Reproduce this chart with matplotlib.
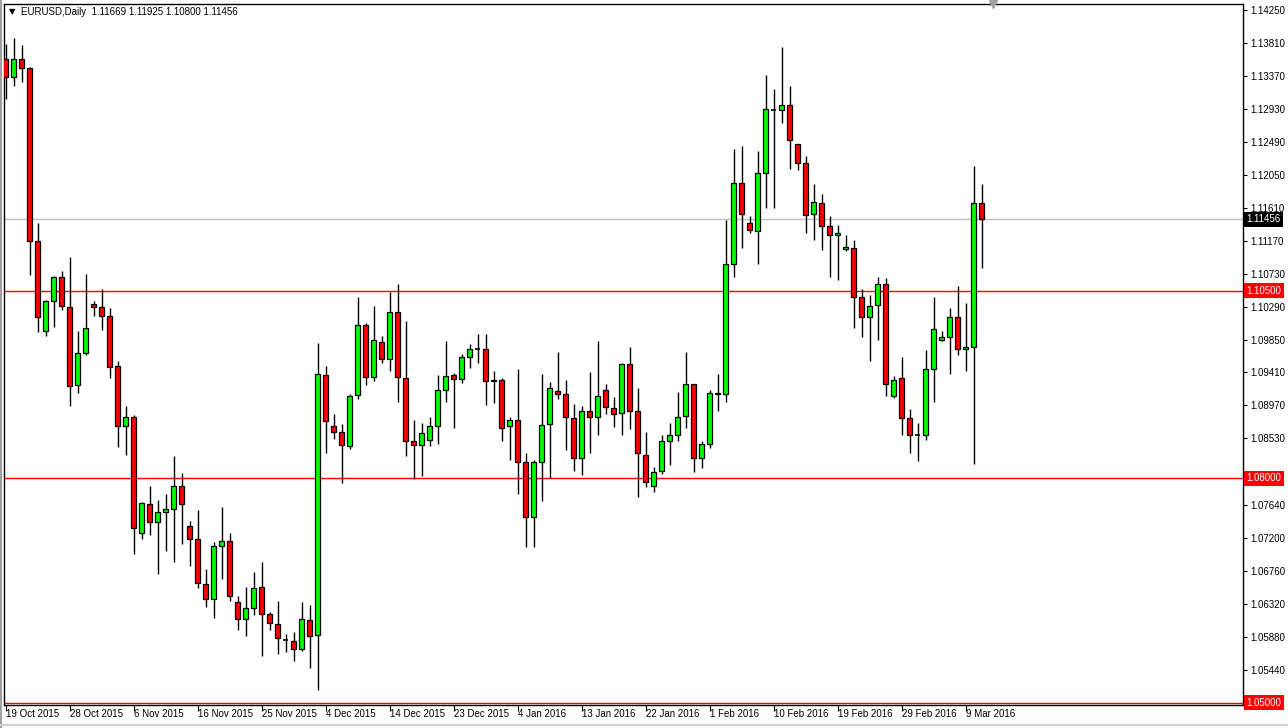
import matplotlib
matplotlib.use("Agg")
import matplotlib.pyplot as plt
import matplotlib.transforms as mtransforms
from matplotlib.lines import Line2D

# EURUSD daily candles
opens = [1.1359, 1.1336, 1.1360, 1.1348, 1.1116, 1.0996, 1.1036, 1.1068, 1.1029, 1.0924,
         1.0967, 1.1032, 1.1028, 1.1016, 1.0949, 1.0869, 1.0881, 1.0726, 1.0766, 1.0742,
         1.0755, 1.0759, 1.0790, 1.0736, 1.0718, 1.0659, 1.0638, 1.0709, 1.0716, 1.0635,
         1.0612, 1.0626, 1.0655, 1.0619, 1.0605, 1.0584, 1.0582, 1.0572, 1.0610, 1.0591,
         1.0937, 1.0869, 1.0861, 1.0843, 1.0911, 1.1004, 1.0935, 1.0982, 1.0959, 1.1022,
         1.0934, 1.0849, 1.0844, 1.0851, 1.0869, 1.0918, 1.0937, 1.0932, 1.0961, 1.0972,
         1.0972, 1.0930, 1.0931, 1.0869, 1.0877, 1.0821, 1.0748, 1.0822, 1.0872, 1.0916,
         1.0912, 1.0880, 1.0827, 1.0889, 1.0881, 1.0917, 1.0894, 1.0887, 1.0952, 1.0889,
         1.0831, 1.0789, 1.0810, 1.0849, 1.0858, 1.0883, 1.0926, 1.0827, 1.0846, 1.0914,
         1.0912, 1.1086, 1.1194, 1.1141, 1.1130, 1.1208, 1.1292, 1.1292, 1.1298, 1.1246,
         1.1221, 1.1152, 1.1167, 1.1137, 1.1124, 1.1106, 1.1107, 1.1042, 1.1015, 1.1031,
         1.1059, 1.0909, 1.0933, 1.0880, 1.0857, 1.0857, 1.0945, 1.0984, 1.0989, 1.1015,
         1.0972, 1.0975, 1.11669]
highs = [1.1379, 1.1387, 1.1378, 1.1349, 1.1140, 1.1038, 1.1070, 1.1077, 1.1095, 1.0997,
         1.1072, 1.1037, 1.1052, 1.1027, 1.0956, 1.0896, 1.0884, 1.0768, 1.0789, 1.0771,
         1.0779, 1.0829, 1.0807, 1.0743, 1.0757, 1.0678, 1.0715, 1.0762, 1.0726, 1.0643,
         1.0655, 1.0675, 1.0688, 1.0621, 1.0636, 1.0592, 1.0595, 1.0635, 1.0631, 1.0980,
         1.0949, 1.0886, 1.0872, 1.0912, 1.1042, 1.1007, 1.1030, 1.0990, 1.1048, 1.1059,
         1.1010, 1.0877, 1.0873, 1.0881, 1.0938, 1.0983, 1.0940, 1.0966, 1.0979, 1.0992,
         1.0992, 1.0943, 1.0933, 1.0881, 1.0946, 1.0834, 1.0824, 1.0939, 1.0928, 1.0969,
         1.0931, 1.0899, 1.0896, 1.0942, 1.0983, 1.0925, 1.0908, 1.0954, 1.0975, 1.0920,
         1.0861, 1.0815, 1.0857, 1.0873, 1.0915, 1.0968, 1.0926, 1.0850, 1.0917, 1.0939,
         1.1145, 1.1239, 1.1243, 1.1150, 1.1237, 1.1338, 1.1320, 1.1376, 1.1324, 1.1246,
         1.1230, 1.1192, 1.1179, 1.1150, 1.1138, 1.1124, 1.1118, 1.1052, 1.1045, 1.1068,
         1.1067, 1.0936, 1.0961, 1.0892, 1.0874, 1.0971, 1.1042, 1.0996, 1.1027, 1.1057,
         1.1034, 1.1217, 1.11925]
lows = [1.1306, 1.1323, 1.1329, 1.1071, 1.0995, 1.0990, 1.1002, 1.1024, 1.0896, 1.0914,
        1.0964, 1.1016, 1.0998, 1.0934, 1.0841, 1.0831, 1.0699, 1.0718, 1.0724, 1.0672,
        1.0703, 1.0688, 1.0712, 1.0682, 1.0653, 1.0628, 1.0613, 1.0665, 1.0636, 1.0597,
        1.0589, 1.0617, 1.0563, 1.0597, 1.0565, 1.0568, 1.0556, 1.0569, 1.0547, 1.0517,
        1.0834, 1.0852, 1.0793, 1.0839, 1.0905, 1.0924, 1.0929, 1.0953, 1.0943, 1.0902,
        1.0830, 1.0799, 1.0803, 1.0843, 1.0846, 1.0901, 1.0867, 1.0927, 1.0947, 1.0954,
        1.0897, 1.0900, 1.0850, 1.0824, 1.0779, 1.0708, 1.0708, 1.0769, 1.0800, 1.0906,
        1.0838, 1.0810, 1.0804, 1.0833, 1.0858, 1.0886, 1.0868, 1.0857, 1.0865, 1.0775,
        1.0788, 1.0782, 1.0805, 1.0817, 1.0850, 1.0867, 1.0808, 1.0813, 1.0840, 1.0890,
        1.0902, 1.1068, 1.1107, 1.1127, 1.1086, 1.1161, 1.1160, 1.1274, 1.1213, 1.1211,
        1.1127, 1.1118, 1.1104, 1.1069, 1.1065, 1.1103, 1.1001, 1.0988, 1.0956, 1.0985,
        1.0910, 1.0907, 1.0857, 1.0833, 1.0823, 1.0851, 1.0901, 1.0983, 1.0939, 1.0965,
        1.0943, 1.0819, 1.10800]
closes = [1.1336, 1.1360, 1.1347, 1.1116, 1.1015, 1.1037, 1.1068, 1.1030, 1.0923, 1.0967,
          1.1000, 1.1028, 1.1016, 1.0948, 1.0869, 1.0881, 1.0734, 1.0767, 1.0742, 1.0755,
          1.0759, 1.0790, 1.0766, 1.0718, 1.0660, 1.0638, 1.0709, 1.0716, 1.0642, 1.0612,
          1.0626, 1.0653, 1.0619, 1.0606, 1.0586, 1.0584, 1.0572, 1.0612, 1.0589, 1.0939,
          1.0876, 1.0861, 1.0844, 1.0910, 1.1004, 1.0935, 1.0985, 1.0959, 1.1022, 1.0935,
          1.0849, 1.0844, 1.0860, 1.0869, 1.0918, 1.0936, 1.0932, 1.0961, 1.0973, 1.0972,
          1.0930, 1.0931, 1.0867, 1.0877, 1.0821, 1.0748, 1.0822, 1.0871, 1.0920, 1.0912,
          1.0881, 1.0827, 1.0890, 1.0881, 1.0909, 1.0895, 1.0886, 1.0952, 1.0889, 1.0833,
          1.0795, 1.0808, 1.0849, 1.0858, 1.0882, 1.0926, 1.0827, 1.0846, 1.0914, 1.0912,
          1.1086, 1.1194, 1.1152, 1.1131, 1.1208, 1.1293, 1.1292, 1.1298, 1.1252, 1.1221,
          1.1151, 1.1168, 1.1137, 1.1124, 1.1127, 1.1109, 1.1042, 1.1015, 1.1030, 1.1059,
          1.0926, 1.0931, 1.0880, 1.0857, 1.0857, 1.0945, 1.0999, 1.0989, 1.1015, 1.0972,
          1.0975, 1.1167, 1.11456]

date_labels = ["19 Oct 2015", "28 Oct 2015", "6 Nov 2015", "16 Nov 2015", "25 Nov 2015",
               "4 Dec 2015", "14 Dec 2015", "23 Dec 2015", "4 Jan 2016", "13 Jan 2016",
               "22 Jan 2016", "1 Feb 2016", "10 Feb 2016", "19 Feb 2016", "29 Feb 2016",
               "9 Mar 2016"]
label_step = 8

price_ticks = [1.14250, 1.13810, 1.13370, 1.12930, 1.12490, 1.12050, 1.11610, 1.11170,
               1.10730, 1.10290, 1.09850, 1.09410, 1.08970, 1.08530, 1.08090, 1.07640,
               1.07200, 1.06760, 1.06320, 1.05880, 1.05440]
hidden_tick = 1.08090   # sits under the 1.08000 box
red_levels = [1.10500, 1.08000, 1.05000]
last_price = 1.11456
title = "EURUSD,Daily  1.11669 1.11925 1.10800 1.11456"

FONT = ["Liberation Sans", "DejaVu Sans"]
plt.rcParams["font.family"] = FONT

fig = plt.figure(figsize=(12.88, 7.28), dpi=100)
ax = fig.add_axes([4 / 1288, 23 / 728, 1239 / 1288, 701 / 728])

n = len(opens)
xs = list(range(n))
w = 0.6

# wicks
ax.vlines(xs, lows, highs, color="black", linewidth=1.0, zorder=3)

# bodies
for i in xs:
    o, c = opens[i], closes[i]
    if abs(c - o) < 1e-9:
        ax.hlines(o, i - w / 2, i + w / 2, color="black", linewidth=1.2, zorder=4)
        continue
    col = "#00ff00" if c > o else "#ff0000"
    ax.bar(i, abs(c - o), bottom=min(o, c), width=w, color=col,
           edgecolor="black", linewidth=0.9, zorder=4)

# horizontal levels
for lv in red_levels:
    ax.axhline(lv, color="#ff0000", linewidth=1.0, zorder=2)
ax.axhline(last_price, color="#c0c0c0", linewidth=1.0, zorder=2)

ax.set_xlim(-0.2125, 154.66)
ax.set_ylim(1.04970, 1.1433)

# right price scale
ax.yaxis.tick_right()
ax.set_yticks(price_ticks)
ax.set_yticklabels(["" if p == hidden_tick else f"{p:.5f}" for p in price_ticks])
ax.tick_params(axis="y", direction="out", length=3, width=0.8, pad=2.5,
               labelsize=7, colors="black")

# bottom date scale
ax.set_xticks([k * label_step for k in range(len(date_labels))])
ax.set_xticklabels(date_labels, ha="left")
ax.tick_params(axis="x", direction="out", length=4, width=0.8, pad=-1,
               labelsize=7, colors="black")

for sp in ax.spines.values():
    sp.set_color("black")
    sp.set_linewidth(1.0)

# price boxes on the scale
trans = mtransforms.blended_transform_factory(ax.transAxes, ax.transData)
boxes = [(last_price, "black")] + [(lv, "#ff0000") for lv in red_levels]
for val, bg in boxes:
    ax.annotate(f"{val:.5f}", xy=(1.0, val), xycoords=trans, xytext=(2.5, 0),
                textcoords="offset points", ha="left", va="center", fontsize=7,
                color="white", annotation_clip=False, zorder=10,
                bbox=dict(boxstyle="square,pad=0.25", facecolor=bg, edgecolor="none"))

# header text
fig.text(9 / 1288, 1 - 12 / 728, "\u25bc", fontsize=6, family="DejaVu Sans",
         ha="left", va="center")
fig.text(21 / 1288, 1 - 12 / 728, title, fontsize=7, ha="left", va="center")

# chart shift marker
ax.plot([0.798], [1.0], marker="v", color="#a0a0a0", markersize=6,
        transform=ax.transAxes, clip_on=False, zorder=10)

# window frame lines
fig.add_artist(Line2D([1 / 1288, 1 / 1288], [0, 1], color="#a0a0a0", linewidth=1.5))
fig.add_artist(Line2D([0, 1], [3 / 728, 3 / 728], color="#d0d0d0", linewidth=1.5))

fig.savefig("out.png", dpi=100)
